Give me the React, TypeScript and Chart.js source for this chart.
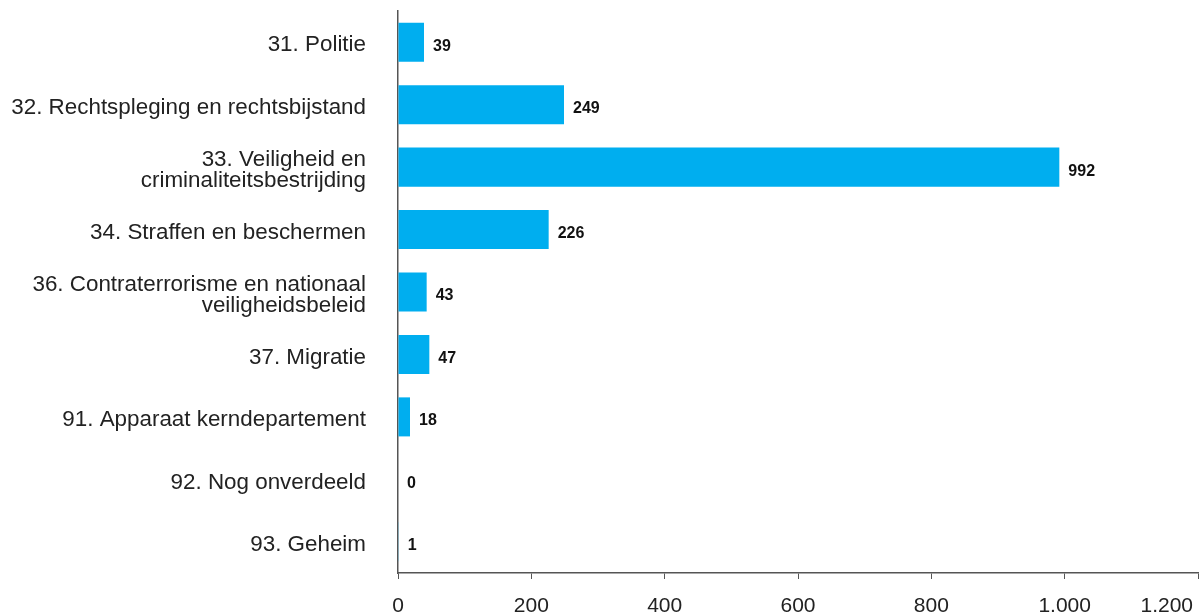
import React, { useEffect, useRef } from "react";
import { Chart, registerables } from "chart.js";

Chart.register(...registerables);

const categories: (string | string[])[] = [
  "31. Politie",
  "32. Rechtspleging en rechtsbijstand",
  ["33. Veiligheid en", "criminaliteitsbestrijding"],
  "34. Straffen en beschermen",
  ["36. Contraterrorisme en nationaal", "veiligheidsbeleid"],
  "37. Migratie",
  "91. Apparaat kerndepartement",
  "92. Nog onverdeeld",
  "93. Geheim",
];
const values: number[] = [39, 249, 992, 226, 43, 47, 18, 0, 1];
const xTickValues: number[] = [0, 200, 400, 600, 800, 1000, 1200];

const FONT = "'Liberation Sans', Arial, sans-serif";
const BAR_COLOR = "#00AEEF";
const AXIS_COLOR = "#555555";
const TEXT_COLOR = "#222222";

function fmt(v: number): string {
  return String(Math.round(v)).replace(/\B(?=(\d{3})+(?!\d))/g, ".");
}

const valueLabels = {
  id: "valueLabels",
  afterDatasetsDraw(chart: any) {
    const ctx = chart.ctx;
    const meta = chart.getDatasetMeta(0);
    ctx.save();
    ctx.font = `bold 16px ${FONT}`;
    ctx.fillStyle = "#111111";
    ctx.textAlign = "left";
    ctx.textBaseline = "middle";
    meta.data.forEach((bar: any, i: number) => {
      ctx.fillText(fmt(values[i]), bar.x + 9, bar.y + 4);
    });
    ctx.restore();
  },
};

const xLabels = {
  id: "xLabels",
  afterDraw(chart: any) {
    const ctx = chart.ctx;
    const scale = chart.scales.x;
    ctx.save();
    ctx.font = `21px ${FONT}`;
    ctx.fillStyle = TEXT_COLOR;
    ctx.textAlign = "center";
    ctx.textBaseline = "alphabetic";
    xTickValues.forEach((v) => {
      const txt = fmt(v);
      const w = ctx.measureText(txt).width;
      let px = scale.getPixelForValue(v);
      px = Math.min(px, chart.width - 6 - w / 2);
      ctx.fillText(txt, px, 612);
    });
    ctx.restore();
  },
};

export default function App() {
  const ref = useRef<HTMLCanvasElement | null>(null);
  useEffect(() => {
    if (!ref.current) return;
    const chart = new Chart(ref.current, {
      type: "bar",
      data: {
        labels: categories,
        datasets: [
          {
            data: values,
            backgroundColor: BAR_COLOR,
            borderWidth: 0,
            barPercentage: 0.625,
            categoryPercentage: 1,
          },
        ],
      },
      options: {
        indexAxis: "y",
        responsive: false,
        animation: false,
        layout: { padding: { top: 11, right: 1, left: 0, bottom: 0 } },
        plugins: {
          legend: { display: false },
          tooltip: { enabled: false },
        },
        scales: {
          x: {
            min: 0,
            max: 1200,
            ticks: {
              stepSize: 200,
              color: "rgba(0,0,0,0)",
              font: { family: FONT, size: 21 },
            },
            grid: {
              drawOnChartArea: false,
              drawTicks: true,
              tickLength: 6,
              color: AXIS_COLOR,
              lineWidth: 1,
            },
            border: { display: true, color: AXIS_COLOR, width: 1.5 },
            afterFit(scale: any) {
              scale.height = 41;
              scale.paddingLeft = 0;
              scale.paddingRight = 0;
            },
          },
          y: {
            ticks: {
              color: TEXT_COLOR,
              padding: 32,
              labelOffset: 3,
              font: { family: FONT, size: 22.4, lineHeight: 0.95 },
            },
            grid: { display: false, drawTicks: false },
            border: { display: true, color: AXIS_COLOR, width: 1.5 },
            afterFit(scale: any) {
              scale.width = 398;
              scale.paddingTop = 0;
              scale.paddingBottom = 0;
            },
          },
        },
      },
      plugins: [valueLabels, xLabels],
    });
    return () => chart.destroy();
  }, []);
  return (
    <div style={{ position: "absolute", left: 0, top: 0, width: 1199, height: 614 }}>
      <canvas ref={ref} width={1199} height={614} style={{ width: 1199, height: 614 }} />
    </div>
  );
}
